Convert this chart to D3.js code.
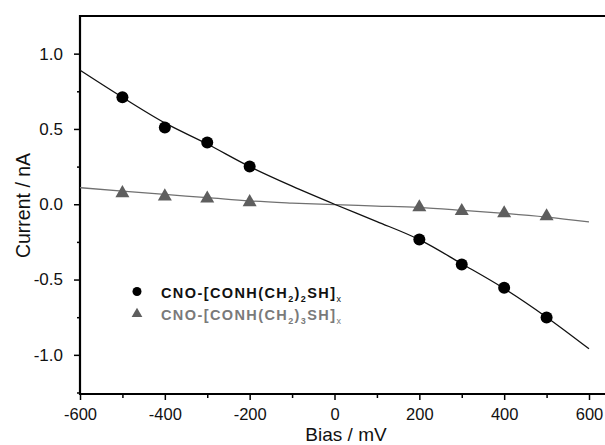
<!DOCTYPE html>
<html>
<head>
<meta charset="utf-8">
<script src="https://cdn.jsdelivr.net/npm/d3@7"></script>
<style>
body { margin: 0; background: #fff; }
svg { display: block; font-family: "Liberation Sans", Arial, sans-serif; }
</style>
</head>
<body>
<div id="chart"></div>
<script>
// Data
const bias = [-500, -400, -300, -200, 200, 300, 400, 500];
const currentC2 = [0.71, 0.51, 0.41, 0.25, -0.234, -0.40, -0.555, -0.752];
const currentC3 = [0.074, 0.052, 0.038, 0.014, -0.02, -0.045, -0.06, -0.08];
// Fit curves
const fitBias = [-600, -500, -400, -300, -200, -100, 0, 100, 200, 300, 400, 500, 600];
const fitC2 = [0.89, 0.71, 0.54, 0.40, 0.25, 0.12, 0.0, -0.115, -0.235, -0.395, -0.56, -0.75, -0.96];
const fitC3 = [0.11, 0.087, 0.065, 0.044, 0.022, 0.008, -0.003, -0.012, -0.022, -0.04, -0.06, -0.085, -0.117];
const xMajor = [-600, -400, -200, 0, 200, 400, 600];
const xMinor = [-500, -300, -100, 100, 300, 500];
const yMajor = [-1.0, -0.5, 0.0, 0.5, 1.0];
const yMinor = [-1.25, -0.75, -0.25, 0.25, 0.75];

const W = 605, H = 445;
const m = { top: 16, left: 80, bottom: 394 };

const svg = d3.select("#chart")
    .append("svg")
    .attr("width", W)
    .attr("height", H);
svg.append("rect").attr("width", W).attr("height", H).attr("fill", "#fff");

const x = d3.scaleLinear().domain([-600, 600]).range([80, 589]);
const y = d3.scaleLinear().domain([-1.26, 1.25]).range([394, 16]);
const fmt = (d) => d3.format(".1f")(d).replace("\u2212", "-");

// Bottom axis
const gx = svg.append("g").attr("transform", `translate(0, ${m.bottom})`);
gx.call(d3.axisBottom(x).tickValues(xMajor).tickSize(6).tickPadding(8).tickFormat((d) => String(d)));
gx.call((g) => g.select(".domain").remove());
gx.selectAll("text").attr("font-size", 16.5).attr("font-family", "Liberation Sans, Arial, sans-serif").attr("fill", "#111");
gx.selectAll("line").attr("stroke", "#000").attr("stroke-width", 1.5);
const gxm = svg.append("g").attr("transform", `translate(0, ${m.bottom})`);
gxm.call(d3.axisBottom(x).tickValues(xMinor).tickSize(4).tickFormat(""));
gxm.call((g) => g.select(".domain").remove());
gxm.selectAll("line").attr("stroke", "#000").attr("stroke-width", 1.5);

// Left axis
const gy = svg.append("g").attr("transform", `translate(${m.left}, 0)`);
gy.call(d3.axisLeft(y).tickValues(yMajor).tickSize(6).tickPadding(11).tickFormat(fmt));
gy.call((g) => g.select(".domain").remove());
gy.selectAll("text").attr("font-size", 17).attr("font-family", "Liberation Sans, Arial, sans-serif").attr("fill", "#111");
gy.selectAll("line").attr("stroke", "#000").attr("stroke-width", 1.5);
const gym = svg.append("g").attr("transform", `translate(${m.left}, 0)`);
gym.call(d3.axisLeft(y).tickValues(yMinor).tickSize(3).tickFormat(""));
gym.call((g) => g.select(".domain").remove());
gym.selectAll("line").attr("stroke", "#000").attr("stroke-width", 1.5);

// Frame lines
svg.append("line").attr("x1", m.left - 1).attr("x2", W).attr("y1", m.bottom).attr("y2", m.bottom)
    .attr("stroke", "#000").attr("stroke-width", 2.2);
svg.append("line").attr("x1", m.left - 1).attr("x2", W).attr("y1", m.top).attr("y2", m.top)
    .attr("stroke", "#000").attr("stroke-width", 2.2);
svg.append("line").attr("x1", m.left).attr("x2", m.left).attr("y1", m.top - 1).attr("y2", m.bottom + 1)
    .attr("stroke", "#000").attr("stroke-width", 2.2);

// Fit curves
const line = d3.line().x((d) => x(d[0])).y((d) => y(d[1])).curve(d3.curveMonotoneX);
svg.append("path")
    .attr("d", line(fitBias.map((b, i) => [b, fitC3[i]])))
    .attr("fill", "none").attr("stroke", "#707070").attr("stroke-width", 1.3);
svg.append("path")
    .attr("d", line(fitBias.map((b, i) => [b, fitC2[i]])))
    .attr("fill", "none").attr("stroke", "#111").attr("stroke-width", 1.3);

// Points
svg.append("g").selectAll("path")
    .data(bias.map((b, i) => [b, currentC3[i]]))
    .join("path")
    .attr("transform", (d) => `translate(${x(d[0])}, ${y(d[1])})`)
    .attr("d", d3.symbol(d3.symbolTriangle, 85))
    .attr("fill", "#5e5e5e");
svg.append("g").selectAll("circle")
    .data(bias.map((b, i) => [b, currentC2[i]]))
    .join("circle")
    .attr("cx", (d) => x(d[0]))
    .attr("cy", (d) => y(d[1]))
    .attr("r", 6)
    .attr("fill", "#000");

// Legend
const legend = [
    { n: "2", color: "#111", marker: "circle", cy: 291.5, base: 297.5 },
    { n: "3", color: "#7a7a7a", marker: "triangle", cy: 314, base: 320 }
];
legend.forEach((l) => {
    if (l.marker === "circle") {
        svg.append("circle").attr("cx", 137).attr("cy", l.cy).attr("r", 4.5).attr("fill", "#000");
    } else {
        svg.append("path").attr("transform", `translate(137, ${l.cy})`)
            .attr("d", d3.symbol(d3.symbolTriangle, 50)).attr("fill", "#5e5e5e");
    }
    const t = svg.append("text")
        .attr("x", 161).attr("y", l.base)
        .attr("font-size", 14.5).attr("font-weight", "bold")
        .attr("letter-spacing", 1.4)
        .attr("fill", l.color);
    t.append("tspan").text("CNO-[CONH(CH");
    t.append("tspan").attr("dy", 4).attr("font-size", 9).text("2");
    t.append("tspan").attr("dy", -4).text(")");
    t.append("tspan").attr("dy", 4).attr("font-size", 9).text(l.n);
    t.append("tspan").attr("dy", -4).text("SH]");
    t.append("tspan").attr("dy", 4).attr("font-size", 9).attr("font-weight", "normal").text("x");
});

// Axis titles
svg.append("text")
    .attr("x", 346).attr("y", 441)
    .attr("text-anchor", "middle")
    .attr("font-size", 19).attr("fill", "#111")
    .text("Bias / mV");
svg.append("text")
    .attr("transform", "translate(30, 205.5) rotate(-90)")
    .attr("text-anchor", "middle")
    .attr("font-size", 19.5).attr("fill", "#111")
    .text("Current / nA");
</script>
</body>
</html>
